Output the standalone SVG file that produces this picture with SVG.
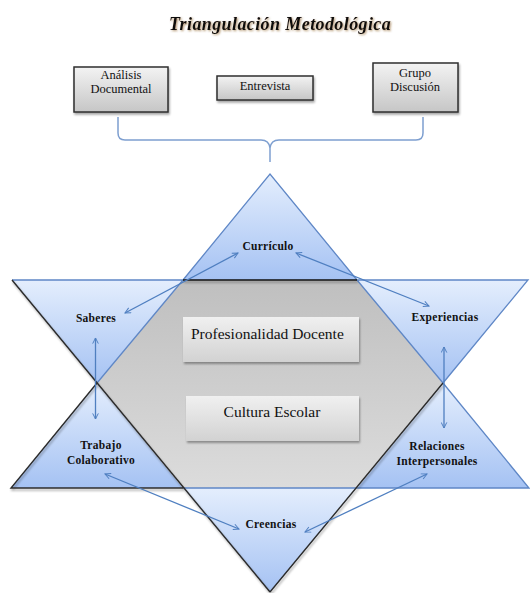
<svg xmlns="http://www.w3.org/2000/svg" width="530" height="593" viewBox="0 0 530 593">
<style>
.serif{font-family:"Liberation Serif","DejaVu Serif","Times New Roman",serif}
.lbl{font-family:"Liberation Serif","DejaVu Serif","Times New Roman",serif;font-weight:bold;font-size:11.5px;letter-spacing:0.3px;fill:#111;text-anchor:middle}
.box{font-family:"Liberation Serif","DejaVu Serif","Times New Roman",serif;font-size:12.5px;fill:#111;text-anchor:middle}
.big{font-family:"Liberation Serif","DejaVu Serif","Times New Roman",serif;font-size:15.5px;fill:#111}
.blue{stroke:#5f87c6;stroke-width:1.3;fill:none}
.dark{stroke:#2b2b2b;stroke-width:1.4;fill:none}
.arr{stroke:#4f7fc0;stroke-width:1.3;fill:none;marker-start:url(#ah);marker-end:url(#ah)}
.tb{fill:url(#gbox);stroke:#2e2e2e;stroke-width:1.5}
.cb{fill:url(#gcen);stroke:none}
</style>
<defs>
<linearGradient id="gblue" x1="0" y1="0" x2="0" y2="1">
<stop offset="0" stop-color="#e4eefd"/><stop offset="1" stop-color="#a5c2f3"/>
</linearGradient>
<linearGradient id="ggray" x1="0" y1="0" x2="0" y2="1">
<stop offset="0" stop-color="#bfbfbf"/><stop offset="1" stop-color="#dcdcdc"/>
</linearGradient>
<linearGradient id="gbox" x1="0" y1="0" x2="0" y2="1">
<stop offset="0" stop-color="#f3f3f3"/><stop offset="1" stop-color="#c6c6c6"/>
</linearGradient>
<linearGradient id="gcen" x1="0" y1="0" x2="0" y2="1">
<stop offset="0" stop-color="#f0f0f0"/><stop offset="1" stop-color="#d2d2d2"/>
</linearGradient>
<filter id="sh" x="-10%" y="-10%" width="130%" height="140%">
<feDropShadow dx="1" dy="2" stdDeviation="1.2" flood-color="#000" flood-opacity="0.35"/>
</filter>
<filter id="tsh" x="-5%" y="-20%" width="110%" height="160%">
<feDropShadow dx="1" dy="1" stdDeviation="0.8" flood-color="#7a4a10" flood-opacity="0.6"/>
</filter>
<marker id="ah" viewBox="0 0 10 10" refX="9" refY="5" markerWidth="7" markerHeight="7" markerUnits="userSpaceOnUse" orient="auto-start-reverse">
<path d="M1,1 L9,5 L1,9" fill="none" stroke="#4f7fc0" stroke-width="1.4"/>
</marker>
</defs>
<rect width="530" height="593" fill="#fff"/>

<text id="title" class="serif" x="280" y="30" font-size="18" font-weight="bold" font-style="italic" text-anchor="middle" letter-spacing="0.4" fill="#111" filter="url(#tsh)">Triangulación Metodológica</text>

<g id="analisis">
<rect class="tb" x="74" y="67" width="94" height="45" filter="url(#sh)"/>
<text class="box" x="121" y="79">Análisis</text>
<text class="box" x="121" y="93">Documental</text>
</g>
<g id="entrevista">
<rect class="tb" x="217" y="76" width="96" height="24" filter="url(#sh)"/>
<text class="box" x="265" y="90">Entrevista</text>
</g>
<g id="grupo">
<rect class="tb" x="373" y="63" width="85" height="49" filter="url(#sh)"/>
<text class="box" x="415" y="77">Grupo</text>
<text class="box" x="415" y="91">Discusión</text>
</g>

<g id="brace">
<path d="M118,117 V133 Q118,140 125,140 H261 Q269,140 270,148 Q271,140 279,140 H416 Q423,140 423,133 V117" fill="none" stroke="#7e9fd0" stroke-width="1.5"/>
<path d="M270,148 V162" fill="none" stroke="#7e9fd0" stroke-width="1.5"/>
</g>

<g id="star">
<g id="curriculo">
<polygon points="270,174 183,280 357,280" fill="url(#gblue)"/>
</g>
<g id="saberes">
<polygon points="12,280 183,280 97,383" fill="url(#gblue)"/>
</g>
<g id="experiencias">
<polygon points="357,280 528,280 443,383" fill="url(#gblue)"/>
</g>
<g id="trabajo">
<polygon points="97,383 183,488 11,488" fill="url(#gblue)"/>
</g>
<g id="relaciones">
<polygon points="443,383 529,488 357,488" fill="url(#gblue)"/>
</g>
<g id="creencias">
<polygon points="183,488 357,488 270,592" fill="url(#gblue)"/>
</g>
<g id="centro">
<polygon points="183,280 357,280 443,383 357,488 183,488 97,383" fill="url(#ggray)"/>
</g>
<g id="edges">
<path class="blue" d="M183,280 L270,174 L357,280 M12,280 H183 M357,280 H528 L443,383 M183,280 L97,383 M357,280 L443,383 L529,488 H357 M183,488 H357"/>
<g filter="url(#sh)">
<path class="dark" d="M12,280 L270,592 M97,383 L11,488 H183 M443,383 L270,592"/>
<path d="M183,280 H357" stroke="#111" stroke-width="1.6" fill="none"/>
</g>
</g>
</g>

<g id="profesionalidad">
<rect class="cb" x="183" y="317" width="176" height="45" filter="url(#sh)"/>
<text class="big" x="191" y="339">Profesionalidad Docente</text>
</g>
<g id="cultura">
<rect class="cb" x="186" y="396" width="173" height="45" filter="url(#sh)"/>
<text class="big" x="272" y="417" text-anchor="middle">Cultura Escolar</text>
</g>

<g id="labels">
<text id="t-curriculo" class="lbl" x="268" y="250">Currículo</text>
<text id="t-saberes" class="lbl" x="96" y="322">Saberes</text>
<text id="t-experiencias" class="lbl" x="445" y="321">Experiencias</text>
<text id="t-trabajo" class="lbl" x="101" y="449">Trabajo</text>
<text class="lbl" x="101" y="464">Colaborativo</text>
<text id="t-relaciones" class="lbl" x="437" y="450">Relaciones</text>
<text class="lbl" x="437" y="465">Interpersonales</text>
<text id="t-creencias" class="lbl" x="271" y="528">Creencias</text>
</g>

<g id="connectors">
<line class="arr" x1="125" y1="313" x2="238" y2="253"/>
<line class="arr" x1="296" y1="253" x2="429" y2="306"/>
<line class="arr" x1="95.5" y1="338" x2="95.5" y2="419"/>
<line class="arr" x1="444" y1="347" x2="444" y2="428"/>
<line class="arr" x1="105" y1="474" x2="239" y2="529"/>
<line class="arr" x1="427" y1="474" x2="305" y2="532"/>
</g>
</svg>
